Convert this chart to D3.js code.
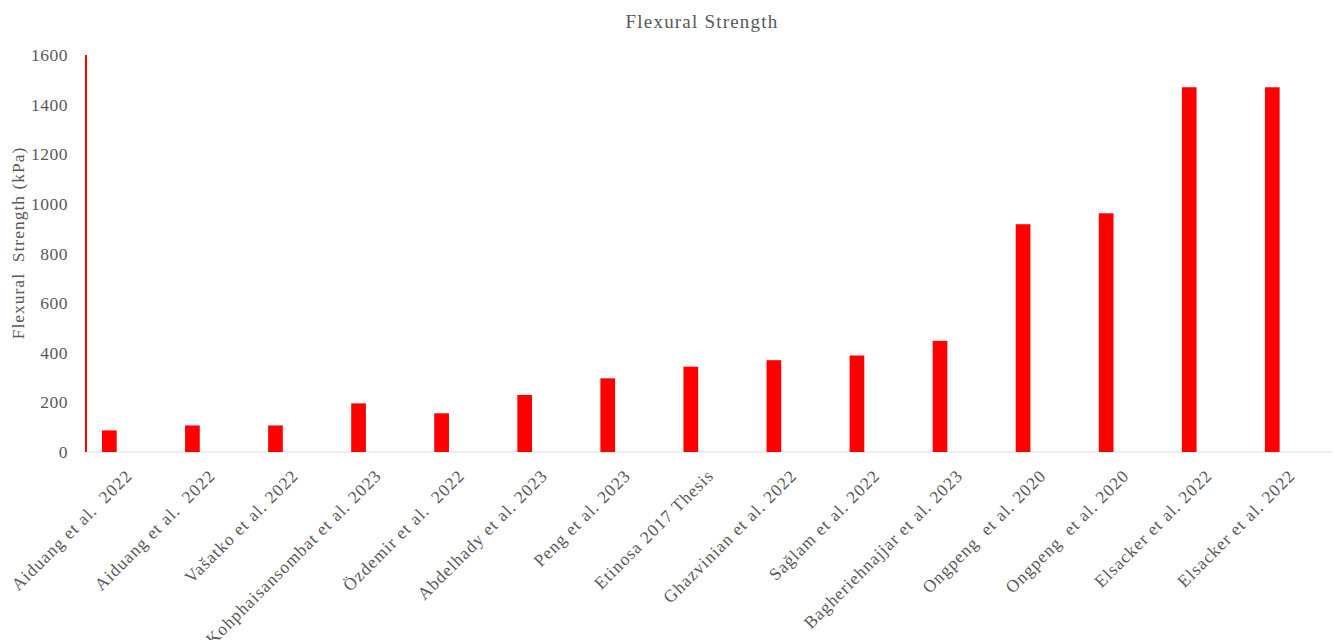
<!DOCTYPE html>
<html>
<head>
<meta charset="utf-8">
<script src="https://cdn.jsdelivr.net/npm/d3@7"></script>
<style>
  body { margin: 0; background: #fff; }
  text { font-family: "Liberation Serif", "DejaVu Serif", serif; fill: #595959; }
</style>
</head>
<body>
<div id="chart"></div>
<script>
// studies on the x axis, in the order shown
var studies = [
    "Aiduang et al.  2022",
    "Aiduang et al.  2022",
    "Vašatko et al. 2022",
    "Kohphaisansombat et al. 2023",
    "Özdemir et al.  2022",
    "Abdelhady et al. 2023",
    "Peng et al. 2023",
    "Etinosa 2017 Thesis",
    "Ghazvinian et al. 2022",
    "Sağlam et al. 2022",
    "Bagheriehnajjar et al. 2023",
    "Ongpeng  et al. 2020",
    "Ongpeng  et al. 2020",
    "Elsacker et al. 2022",
    "Elsacker et al. 2022"
];

// flexural strength, kPa
var strength = [87, 107, 107, 196, 156, 230, 297, 344, 370, 389, 448, 918, 962, 1470, 1470];

var yTicks = [0, 200, 400, 600, 800, 1000, 1200, 1400, 1600];

var width = 1333, height = 640;
var margin = {top: 55, right: 1, bottom: 188, left: 86};
var plotW = width - margin.left - margin.right,
    plotH = height - margin.top - margin.bottom;

var svg = d3.select("#chart").append("svg")
    .attr("width", width)
    .attr("height", height);

var g = svg.append("g")
    .attr("transform", "translate(" + margin.left + "," + margin.top + ")");

var x = d3.scaleBand()
    .domain(d3.range(studies.length))
    .range([0, plotW]);

var y = d3.scaleLinear()
    .domain([0, 1600])
    .range([plotH, 0]);

// baseline
g.append("line")
    .attr("x1", 0).attr("x2", plotW)
    .attr("y1", y(0)).attr("y2", y(0))
    .attr("stroke", "#d9d9d9")
    .attr("stroke-width", 1);

// bars sit in the left part of each band, like the Excel original
var barW = 14.7, barOff = 16;
g.selectAll(".bar")
    .data(strength)
    .enter()
    .append("rect")
    .attr("class", "bar")
    .attr("x", (d, i) => x(i) + barOff)
    .attr("y", d => y(d))
    .attr("width", barW)
    .attr("height", d => y(0) - y(d))
    .attr("fill", "#ff0000");

// y axis
var yAxis = d3.axisLeft(y).tickValues(yTicks).tickSize(0).tickPadding(18)
    .tickFormat(d3.format("d"));
var yg = g.append("g").call(yAxis);
yg.select(".domain").remove();
yg.selectAll("text")
    .style("font-size", "17.5px")
    .style("letter-spacing", "0.5px")
    .attr("fill", "#595959")
    .style("font-family", "'Liberation Serif', serif");

g.append("line")
    .attr("x1", 0).attr("x2", 0)
    .attr("y1", y(1600)).attr("y2", y(0))
    .attr("stroke", "#ff0000")
    .attr("stroke-width", 2);

// x axis labels
var xAxis = d3.axisBottom(x).tickSize(0).tickFormat(i => studies[i]);
var xg = g.append("g")
    .attr("transform", "translate(0," + plotH + ")")
    .call(xAxis);
xg.select(".domain").remove();
xg.selectAll("text")
    .style("font-size", "17.5px")
    .style("letter-spacing", "1px")
    .style("white-space", "pre")
    .style("font-family", "'Liberation Serif', serif")
    .attr("fill", "#595959")
    .style("text-anchor", "end")
    .attr("dx", "-0.2em")
    .attr("dy", "0.9em")
    .attr("transform", "translate(-5,9) rotate(-45)");

// title
svg.append("text")
    .attr("x", 702)
    .attr("y", 28)
    .attr("text-anchor", "middle")
    .style("font-size", "19px")
    .style("letter-spacing", "1.2px")
    .text("Flexural Strength");

// y axis title
svg.append("text")
    .attr("transform", "translate(24," + 243 + ") rotate(-90)")
    .attr("text-anchor", "middle")
    .style("font-size", "17.5px")
    .style("letter-spacing", "1px")
    .style("white-space", "pre")
    .text("Flexural  Strength (kPa)");
</script>
</body>
</html>
